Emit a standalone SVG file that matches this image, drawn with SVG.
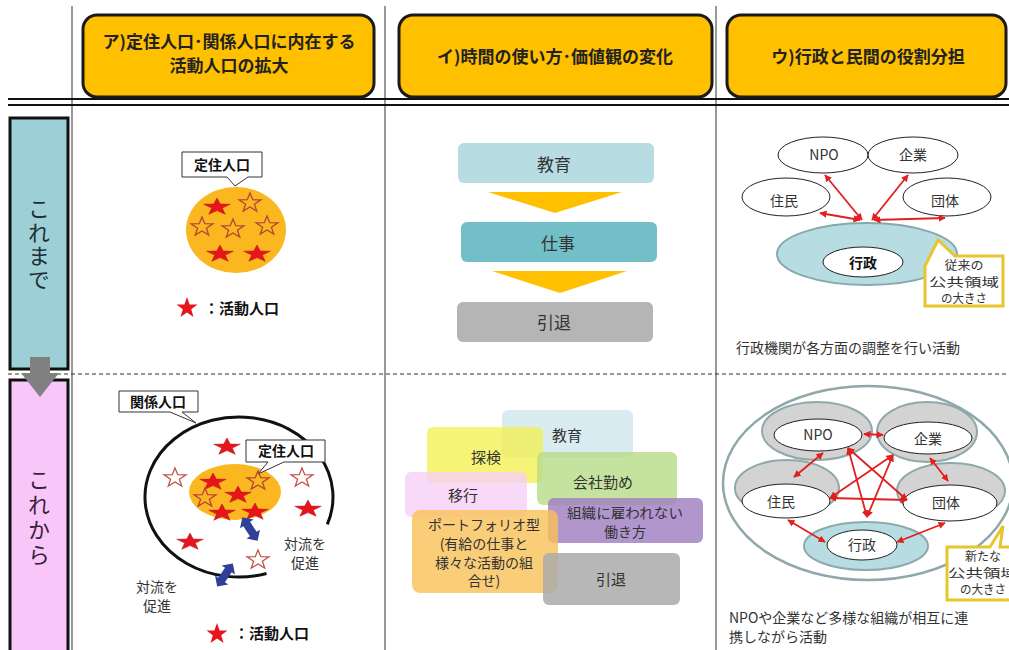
<svg xmlns="http://www.w3.org/2000/svg" width="1009" height="650" viewBox="0 0 1009 650">
<style>
text{font-family:"Noto Sans CJK JP","Noto Sans",sans-serif;fill:#333}
.hd{font-size:17px;font-weight:bold;fill:#222;text-anchor:middle}
.vt{font-size:22px;text-anchor:middle;writing-mode:vertical-rl}
.c{text-anchor:middle}
.b{font-weight:bold;fill:#111}
.f12{font-size:12px}
.f14{font-size:14px}
.f15{font-size:15px}
.f17{font-size:17px}
.el{fill:#fff;stroke:#222;stroke-width:1}
.ring{fill:#d3d3d3;stroke:#8fa9ab;stroke-width:2}
.red{stroke:#e0201f;stroke-width:1.8;fill:none;marker-start:url(#ah);marker-end:url(#ah)}
.callout{fill:#fff;stroke:#333;stroke-width:1}
.ycall{fill:#fff;stroke:#e8c52c;stroke-width:3}
.sf{fill:#e8141b;stroke:#b0101a;stroke-width:0.5}
.so{fill:none;stroke:#b5403a;stroke-width:1}
.sw{fill:#fff;stroke:#c0504a;stroke-width:1}
.grid{stroke:#333;stroke-width:1}
</style>
<defs>
<marker id="ah" viewBox="0 0 10 10" refX="9" refY="5" markerWidth="4" markerHeight="4" orient="auto-start-reverse"><path d="M0,0 L10,5 L0,10 z" fill="#e0201f"/></marker>
<polygon id="star" points="0,-9 3.29,-2.91 13.27,-2.78 5.3,1.11 8.2,7.28 0,3.6 -8.2,7.28 -5.3,1.11 -13.27,-2.78 -3.29,-2.91"/>
<polygon id="star2" points="0,-8 2.2,-2.6 8.8,-2.5 3.5,1 5.4,6.5 0,3.2 -5.4,6.5 -3.5,1 -8.8,-2.5 -2.2,-2.6" transform="scale(1.25)"/>
<polygon id="dbl" points="-14,0 -6,-8 -6,-4 6,-4 6,-8 14,0 6,8 6,4 -6,4 -6,8"/>
</defs>

<g id="grid">
<line class="grid" x1="72" y1="6" x2="72" y2="650"/>
<line class="grid" x1="385" y1="6" x2="385" y2="650"/>
<line class="grid" x1="716" y1="6" x2="716" y2="650"/>
<line x1="8" y1="99" x2="1009" y2="99" stroke="#111" stroke-width="2"/>
<line x1="8" y1="105" x2="1009" y2="105" stroke="#111" stroke-width="2"/>
<line x1="8" y1="374" x2="1009" y2="374" stroke="#333" stroke-width="1" stroke-dasharray="4,3"/>
</g>

<g id="header-a">
<rect x="83" y="15" width="291" height="82" rx="14" fill="#ffc000" stroke="#1a1a1a" stroke-width="3"/>
<text class="hd" x="229" y="48">ア)定住人口･関係人口に内在する<tspan x="229" dy="24">活動人口の拡大</tspan></text>
</g>
<g id="header-b">
<rect x="399" y="15" width="313" height="82" rx="14" fill="#ffc000" stroke="#1a1a1a" stroke-width="3"/>
<text class="hd" x="555" y="63">イ)時間の使い方･価値観の変化</text>
</g>
<g id="header-c">
<rect x="727" y="15" width="279" height="82" rx="14" fill="#ffc000" stroke="#1a1a1a" stroke-width="3"/>
<text class="hd" x="868" y="63">ウ)行政と民間の役割分担</text>
</g>

<g id="row-before">
<rect x="10" y="118" width="58" height="251" fill="#9dd0d6" stroke="#111" stroke-width="3"/>
<text class="vt" x="39" y="245" style="letter-spacing:1.5px;fill:#1f2f33">これまで</text>
</g>
<g id="row-after">
<rect x="10" y="380" width="58" height="280" fill="#f8c6f8" stroke="#111" stroke-width="3"/>
<text class="vt" x="39" y="519" style="letter-spacing:3px;fill:#3a1f3a">これから</text>
</g>
<g id="down-arrow">
<polygon points="30,357 50,357 50,373 59,373 40,397 21,373 30,373" fill="#808080"/>
</g>

<!-- Column A top -->
<g id="a-before">
<path class="callout" d="M182,152 H262 V177 H248 L235,186 L227,177 H182 Z"/>
<text class="c f14 b" x="222" y="170">定住人口</text>
<ellipse cx="236" cy="230" rx="50" ry="43" fill="#fab720"/>
<use href="#star" x="217" y="207" class="sf"/>
<use href="#star2" x="250" y="203" class="so"/>
<use href="#star2" x="202" y="227" class="so"/>
<use href="#star2" x="233" y="229" class="so"/>
<use href="#star2" x="267" y="226" class="so"/>
<use href="#star" x="220" y="254" class="sf"/>
<use href="#star" x="257" y="254" class="sf"/>
<polygon points="187,297 189.6,304.5 197.5,304.6 191.2,309.3 193.5,317 187,312.4 180.5,317 182.8,309.3 176.5,304.6 184.4,304.5" fill="#e8141b"/>
<text class="f15 b" x="204" y="314">：活動人口</text>
</g>

<!-- Column A bottom -->
<g id="a-after">
<path d="M266.5,573.5 A94,80 0 1 1 327.3,524.4" fill="none" stroke="#111" stroke-width="3"/>
<path class="callout" d="M119,391 H198 V412 H182 L196,423 L170,412 H119 Z"/>
<text class="c f14 b" x="158" y="407">関係人口</text>
<ellipse cx="235" cy="492" rx="46" ry="28" fill="#fab720"/>
<path class="callout" d="M246,440 H325 V462 H284 L258,474 L268,462 H246 Z"/>
<text class="c f14 b" x="286" y="456">定住人口</text>
<use href="#star" x="227" y="447" class="sf"/>
<use href="#star2" x="175" y="478" class="sw"/>
<use href="#star2" x="302" y="478" class="sw"/>
<use href="#star" x="213" y="482" class="sf"/>
<use href="#star2" x="258" y="481" class="so"/>
<use href="#star" x="238" y="495" class="sf"/>
<use href="#star2" x="205" y="498" class="so"/>
<use href="#star" x="222" y="513" class="sf"/>
<use href="#star" x="255" y="512" class="sf"/>
<use href="#star" x="308" y="509" class="sf"/>
<use href="#star" x="190" y="542" class="sf"/>
<use href="#star2" x="258" y="560" class="sw"/>
<use href="#dbl" transform="translate(250,529) rotate(57)" fill="#2f3f9a"/>
<use href="#dbl" transform="translate(225,575) rotate(124)" fill="#2f3f9a"/>
<text class="c f14" x="305" y="549">対流を<tspan x="305" dy="19">促進</tspan></text>
<text class="c f14" x="157" y="592">対流を<tspan x="157" dy="19">促進</tspan></text>
<polygon points="217,623 219.6,630.5 227.5,630.6 221.2,635.3 223.5,643 217,638.4 210.5,643 212.8,635.3 206.5,630.6 214.4,630.5" fill="#e8141b"/>
<text class="f15 b" x="234" y="639">：活動人口</text>
</g>

<!-- Column B top -->
<g id="b-before">
<rect x="458" y="143" width="196" height="40" rx="6" fill="#b7dde3"/>
<text class="c f17" x="554" y="171">教育</text>
<polygon points="488,192 622,192 555,213" fill="#ffc000"/>
<rect x="461" y="222" width="196" height="40" rx="6" fill="#72bfc8"/>
<text class="c f17" x="558" y="250">仕事</text>
<polygon points="492,271 627,271 560,293" fill="#ffc000"/>
<rect x="457" y="302" width="196" height="40" rx="6" fill="#b5b5b5"/>
<text class="c f17" x="554" y="329">引退</text>
</g>

<!-- Column B bottom -->
<g id="b-after">
<rect x="502" y="410" width="131" height="47" rx="6" fill="#d2e9ee" opacity="0.85"/>
<rect x="427" y="427" width="116" height="56" rx="6" fill="#f3f04a" opacity="0.75"/>
<rect x="405" y="472" width="122" height="45" rx="6" fill="#f8cff6" opacity="0.8"/>
<rect x="537" y="452" width="140" height="53" rx="6" fill="#b6dc86" opacity="0.8"/>
<rect x="548" y="498" width="155" height="45" rx="6" fill="#9e7cc2" opacity="0.8"/>
<rect x="412" y="510" width="146" height="83" rx="8" fill="#f9c258" opacity="0.8"/>
<rect x="543" y="553" width="137" height="52" rx="6" fill="#aaaaaa" opacity="0.85"/>
<text class="c f15" x="567" y="441">教育</text>
<text class="c f15" x="486" y="463">探検</text>
<text class="c f15" x="463" y="501">移行</text>
<text class="c f15" x="603" y="488">会社勤め</text>
<text class="c f14" x="625" y="518" textLength="116" lengthAdjust="spacingAndGlyphs">組織に雇われない</text>
<text class="c f14" x="625" y="537">働き方</text>
<text class="c f14" x="484" y="530">ポートフォリオ型<tspan x="484" dy="19">(有給の仕事と</tspan><tspan x="484" dy="19">様々な活動の組</tspan><tspan x="484" dy="18">合せ)</tspan></text>
<text class="c f15" x="611" y="585">引退</text>
</g>

<!-- Column C top -->
<g id="c-before">
<ellipse cx="867" cy="254" rx="90" ry="31" fill="#b7dde3" stroke="#86a9ad" stroke-width="2"/>
<ellipse class="el" cx="863" cy="262" rx="40" ry="15"/>
<text class="c f14 b" x="863" y="268">行政</text>
<ellipse class="el" cx="823" cy="155" rx="45" ry="18"/>
<text class="c f14" x="824" y="160">NPO</text>
<ellipse class="el" cx="913" cy="155" rx="45" ry="18"/>
<text class="c f14" x="913" y="160">企業</text>
<ellipse class="el" cx="786" cy="197" rx="44" ry="19"/>
<text class="c f14" x="784" y="206">住民</text>
<ellipse class="el" cx="947" cy="197" rx="44" ry="19"/>
<text class="c f14" x="945" y="206">団体</text>
<path class="ycall" d="M925,266 L938,240 L955,256 H1003 V306 H925 Z"/>
<text class="c f12" x="964" y="270" textLength="39" lengthAdjust="spacingAndGlyphs">従来の</text>
<text class="c f12" x="964" y="286.5" textLength="70" lengthAdjust="spacingAndGlyphs">公共領域</text>
<text class="c f12" x="964" y="303" textLength="46" lengthAdjust="spacingAndGlyphs">の大きさ</text>
<text class="f14" x="736" y="353">行政機関が各方面の調整を行い活動</text>
</g>

<!-- Column C bottom -->
<g id="c-after">
<ellipse cx="868" cy="483" rx="145" ry="97" fill="#fff" stroke="#8fa9ab" stroke-width="2.5"/>
<ellipse class="ring" cx="817" cy="431" rx="55" ry="29"/>
<ellipse class="ring" cx="927" cy="432" rx="50" ry="30"/>
<ellipse class="ring" cx="787" cy="488" rx="52" ry="28"/>
<ellipse class="ring" cx="951" cy="491" rx="54" ry="28"/>
<ellipse cx="866" cy="546" rx="62" ry="24" fill="#b7dde3" stroke="#8fa9ab" stroke-width="2"/>
<ellipse class="el" cx="818" cy="435" rx="44" ry="16"/>
<ellipse class="el" cx="928" cy="438" rx="44" ry="16"/>
<ellipse class="el" cx="786" cy="501" rx="44" ry="17"/>
<ellipse class="el" cx="950" cy="503" rx="47" ry="18"/>
<ellipse class="el" cx="862" cy="545" rx="35" ry="15"/>
<text class="c f14" x="818" y="440">NPO</text>
<text class="c f14" x="928" y="444">企業</text>
<text class="c f14" x="781" y="507">住民</text>
<text class="c f14" x="946" y="508">団体</text>
<text class="c f14" x="862" y="550">行政</text>
<path class="ycall" d="M947,547 H990 L1003,526 L1000,547 H1012 V600 H947 Z"/>
<text class="c f12" x="983" y="561" textLength="36" lengthAdjust="spacingAndGlyphs">新たな</text>
<text class="c f12" x="983" y="577.5" textLength="70" lengthAdjust="spacingAndGlyphs">公共領域</text>
<text class="c f12" x="983" y="594" textLength="46" lengthAdjust="spacingAndGlyphs">の大きさ</text>
<text class="f14" x="729" y="623">NPOや企業など多様な組織が相互に連<tspan x="729" dy="19">携しながら活動</tspan></text>
</g>

<g id="connectors">
<line class="red" x1="862" y1="220" x2="825" y2="175"/>
<line class="red" x1="872" y1="220" x2="908" y2="175"/>
<line class="red" x1="860" y1="220" x2="820" y2="213"/>
<line class="red" x1="874" y1="220" x2="945" y2="218"/>
<line class="red" x1="864" y1="434" x2="883" y2="435"/>
<line class="red" x1="823" y1="453" x2="794" y2="477"/>
<line class="red" x1="848" y1="448" x2="907" y2="500"/>
<line class="red" x1="848" y1="448" x2="867" y2="517"/>
<line class="red" x1="893" y1="455" x2="830" y2="498"/>
<line class="red" x1="893" y1="455" x2="867" y2="517"/>
<line class="red" x1="930" y1="458" x2="948" y2="481"/>
<line class="red" x1="830" y1="498" x2="907" y2="500"/>
<line class="red" x1="788" y1="520" x2="825" y2="542"/>
<line class="red" x1="945" y1="523" x2="897" y2="542"/>
</g>
</svg>
